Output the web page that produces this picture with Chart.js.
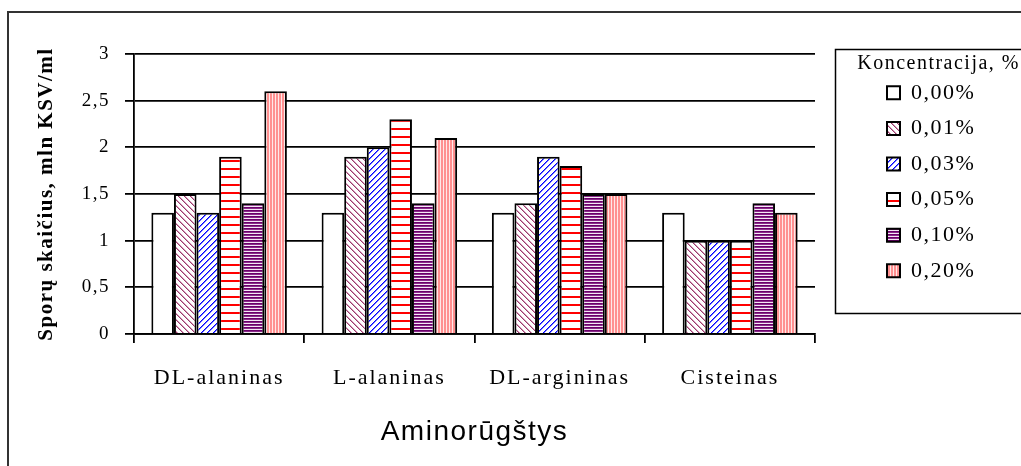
<!DOCTYPE html>
<html>
<head>
<meta charset="utf-8">
<title>Sporų skaičius</title>
<script src="https://cdn.jsdelivr.net/npm/chart.js@4.4.1/dist/chart.umd.min.js"></script>
<style>
  html, body { margin: 0; padding: 0; background: #fff; overflow: hidden; }
  canvas { display: block; }
</style>
</head>
<body>
<canvas id="c" width="1021" height="466"></canvas>
<script>
// Categories, series and tick labels
const categories = ['DL-alaninas', 'L-alaninas', 'DL-argininas', 'Cisteinas'];
const seriesNames = ['0,00%', '0,01%', '0,03%', '0,05%', '0,10%', '0,20%'];
const conc000 = [1.3, 1.3, 1.3, 1.3];
const conc001 = [1.5, 1.9, 1.4, 1.0];
const conc003 = [1.3, 2.0, 1.9, 1.0];
const conc005 = [1.9, 2.3, 1.8, 1.0];
const conc010 = [1.4, 1.4, 1.5, 1.4];
const conc020 = [2.6, 2.1, 1.5, 1.3];
const yTickLabels = ['0', '0,5', '1', '1,5', '2', '2,5', '3'];

const seriesValues = [conc000, conc001, conc003, conc005, conc010, conc020];

const canvas = document.getElementById('c');
const ctx = canvas.getContext('2d');

// Small repeating tiles used as hatch fills
function tile(w, h, paint) {
  const t = document.createElement('canvas');
  t.width = w; t.height = h;
  const g = t.getContext('2d');
  g.fillStyle = '#ffffff';
  g.fillRect(0, 0, w, h);
  paint(g);
  return ctx.createPattern(t, 'repeat');
}

const fills = [
  '#ffffff',
  // back-diagonal maroon hatch
  tile(6, 6, g => {
    for (let i = 0; i < 6; i++) {
      g.fillStyle = '#9a3a6c'; g.fillRect(i, i, 1, 1);
      g.fillStyle = '#d49ab8'; g.fillRect((i + 1) % 6, i, 1, 1);
    }
  }),
  // forward-diagonal blue hatch
  tile(6, 6, g => {
    for (let i = 0; i < 6; i++) {
      g.fillStyle = '#0000ff'; g.fillRect(5 - i, i, 1, 1);
      g.fillStyle = '#7070ff'; g.fillRect((6 - i) % 6, i, 1, 1);
    }
  }),
  // wide red horizontal stripes
  tile(1, 8, g => {
    g.fillStyle = '#ff0000'; g.fillRect(0, 0, 1, 2);
  }),
  // dense purple horizontal stripes
  tile(1, 3, g => {
    g.fillStyle = '#6a006a'; g.fillRect(0, 0, 1, 1);
    g.fillStyle = '#8a2a8a'; g.fillRect(0, 1, 1, 1);
    g.fillStyle = '#f4e8f4'; g.fillRect(0, 2, 1, 1);
  }),
  // pink vertical stripes
  tile(3, 1, g => {
    g.fillStyle = '#ff9090'; g.fillRect(0, 0, 2, 1);
    g.fillStyle = '#ffe8e8'; g.fillRect(2, 0, 1, 1);
  })
];

const SERIF = '"Liberation Serif", "Times New Roman", serif';
const SANS = '"Liberation Sans", Arial, sans-serif';

Chart.defaults.color = '#000';
Chart.defaults.font.family = SERIF;

// Outer frame and the box around the legend
const frames = {
  id: 'frames',
  beforeDraw(chart) {
    const c = chart.ctx;
    c.save();
    c.strokeStyle = '#333';
    c.lineWidth = 2;
    c.strokeRect(8, 12, 1200, 600);
    c.restore();
  },
  afterDraw(chart) {
    const c = chart.ctx;
    c.save();
    c.strokeStyle = '#000';
    c.lineWidth = 1.5;
    c.strokeRect(835.5, 49.5, 400, 264);
    c.restore();
  }
};

// Legend reserves a fixed column on the right, then sits inside its box
const legendPlacement = {
  id: 'legendPlacement',
  beforeLayout(chart) {
    const lg = chart.legend;
    if (lg && !lg.__fixedWidth) {
      const fit = lg.fit.bind(lg);
      lg.fit = function () { fit(); this.width = 206; };
      // draw without clipping so the title may extend left of the items
      lg.draw = function () { if (this.options.display) this._draw(); };
      lg.__fixedWidth = true;
    }
  },
  afterLayout(chart) {
    const lg = chart.legend;
    if (!lg) return;
    lg.left = 873.4;
    lg.right = 1020;
    lg.width = lg.right - lg.left;
    lg.top = 54;
    lg.bottom = 466;
    lg.height = lg.bottom - lg.top;
  }
};

// Wider letter spacing for the text layers
const spacing = {
  id: 'spacing',
  beforeDraw(chart) { chart.ctx.letterSpacing = '1.5px'; },
  afterDatasetsDraw(chart) { chart.ctx.letterSpacing = '2px'; },
  afterDraw(chart) { chart.ctx.letterSpacing = '0px'; }
};

new Chart(ctx, {
  type: 'bar',
  data: {
    labels: categories,
    datasets: seriesNames.map((name, i) => ({
      label: name,
      data: seriesValues[i],
      backgroundColor: fills[i],
      borderColor: '#000',
      borderWidth: 2,
      categoryPercentage: 0.796,
      barPercentage: 1.0
    }))
  },
  options: {
    responsive: false,
    animation: false,
    devicePixelRatio: 1,
    layout: { padding: { top: 54, left: 0, right: 0, bottom: 0 } },
    plugins: {
      tooltip: { enabled: false },
      legend: {
        position: 'right',
        align: 'start',
        title: {
          display: true,
          text: 'Koncentracija, %',
          position: 'end',
          color: '#000',
          font: { family: SERIF, size: 20, lineHeight: 0.71 },
          padding: 0
        },
        labels: {
          boxWidth: 13,
          boxHeight: 13,
          padding: 13.6,
          color: '#000',
          font: { family: SERIF, size: 22 }
        }
      }
    },
    scales: {
      x: {
        offset: true,
        grid: {
          display: true,
          offset: true,
          drawOnChartArea: false,
          drawTicks: true,
          tickLength: 9,
          color: '#000',
          lineWidth: 1.8
        },
        border: { display: true, color: '#000', width: 1.8 },
        ticks: {
          z: 1,
          padding: 22,
          maxRotation: 0,
          autoSkip: false,
          color: '#000',
          font: { family: SERIF, size: 22 }
        },
        title: {
          display: true,
          text: 'Aminorūgštys',
          color: '#000',
          font: { family: SANS, size: 28 },
          padding: { top: 0, bottom: 17 }
        },
        afterFit(s) { s.height = 132; }
      },
      y: {
        min: 0,
        max: 3,
        grid: {
          color: '#000',
          lineWidth: 1.8,
          drawTicks: true,
          tickLength: 9
        },
        border: { display: true, color: '#000', width: 1.8 },
        ticks: {
          stepSize: 0.5,
          padding: 15,
          color: '#000',
          font: { family: SERIF, size: 19 },
          callback: (v, i) => yTickLabels[i]
        },
        title: {
          display: true,
          text: 'Sporų skaičius, mln KSV/ml',
          color: '#000',
          font: { family: SERIF, size: 21, weight: 'bold' },
          padding: { top: 34, bottom: 0 }
        },
        afterFit(s) { s.width = 134; }
      }
    }
  },
  plugins: [frames, legendPlacement, spacing]
});
</script>
</body>
</html>
